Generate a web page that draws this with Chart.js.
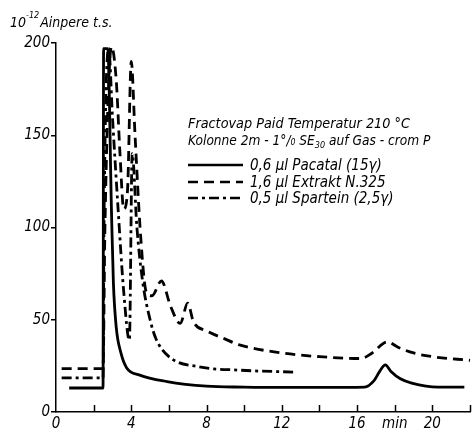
<!DOCTYPE html>
<html>
<head>
<meta charset="utf-8">
<script src="https://cdn.jsdelivr.net/npm/chart.js@4"></script>
<style>
  html, body { margin: 0; padding: 0; background: #fff; }
  #box { width: 473px; height: 430px; }
</style>
</head>
<body>
<div id="box"><canvas id="grafico" width="473" height="430"></canvas></div>
<script>
const pacatalX = [0.7, 2.5, 2.53, 2.75, 2.95, 3.05, 3.2, 3.45, 3.75, 4.45, 5.9, 8, 10, 12, 14, 16.4, 16.9, 17.2, 17.5, 17.8, 18.3, 18.9, 20.3, 21.7];
const pacatalY = [13, 13, 197, 197, 108, 70, 46, 32, 24, 20, 16.5, 14, 13.5, 13.3, 13.3, 13.5, 17, 22, 25.5, 22, 18, 15.7, 13.5, 13.5];

const extraktX = [0.3, 2.5, 2.6, 2.95, 3.2, 3.4, 3.6, 3.8, 4.0, 4.2, 4.5, 4.8, 5.1, 5.6, 6.1, 6.6, 7.0, 7.3, 8, 9, 9.7, 12, 14, 16.2, 16.8, 17.6, 18.2, 19, 20, 22];
const extraktY = [23.5, 23.5, 100, 198, 180, 140, 110, 120, 190, 150, 95, 65, 63, 71, 57, 48, 59, 49, 44, 39.5, 36.5, 32, 30, 29, 32, 38, 35, 32, 30, 28];

const sparteinX = [0.3, 2.5, 2.55, 2.8, 3.0, 3.3, 3.6, 3.9, 4.05, 4.3, 4.6, 5.0, 5.3, 6.0, 7.6, 9.7, 12.7];
const sparteinY = [18.5, 18.5, 100, 197, 160, 110, 65, 39, 140, 100, 71, 50, 40, 30, 24.5, 22.7, 21.6];

const serienNamen = ['0,6 µl Pacatal (15γ)', '1,6 µl Extrakt N.325', '0,5 µl Spartein (2,5γ)'];
const serienStriche = [[], [10, 6], [10, 4, 3, 4]];

const xTickWerte = [0, 2, 4, 6, 8, 10, 12, 14, 16, 18, 20, 22];
const xTickTexte = ['0', '', '4', '', '8', '', '12', '', '16', 'min', '20', ''];
const yTickWerte = [0, 50, 100, 150, 200];

const schrift = '"DejaVu Sans Condensed", "DejaVu Sans", sans-serif';

function punkte(xs, ys) {
  return xs.map((x, i) => ({ x: x, y: ys[i] }));
}

// schreibt Text und gibt die Breite zurück
function schreiben(ctx, text, x, y, size, italic, sx) {
  sx = sx || 1;
  ctx.save();
  ctx.font = (italic ? 'italic ' : '') + size + 'px ' + schrift;
  const w = ctx.measureText(text).width * sx;
  ctx.translate(x, y);
  ctx.scale(sx, 1);
  ctx.fillText(text, 0, 0);
  ctx.restore();
  return w;
}

// Beschriftung, Legende und kleine Teilstriche
const beschriftung = {
  id: 'beschriftung',
  afterDraw(chart) {
    const ctx = chart.ctx;
    const xs = chart.scales.x;
    ctx.save();
    ctx.fillStyle = '#000';
    ctx.strokeStyle = '#000';
    ctx.textBaseline = 'alphabetic';

    // Teilstriche auf der x-Achse (nach innen)
    ctx.lineWidth = 1.5;
    xTickWerte.forEach(v => {
      if (v === 0) return;
      const px = Math.round(xs.getPixelForValue(v)) + 0.5;
      ctx.beginPath();
      ctx.moveTo(px, xs.top);
      ctx.lineTo(px, xs.top - 7);
      ctx.stroke();
    });

    // Achsentitel
    let x = 10;
    x += schreiben(ctx, '10', x, 27, 14, true);
    x += schreiben(ctx, '-12', x, 18, 9, true);
    schreiben(ctx, 'Ainpere t.s.', x + 1, 27, 14, true);

    // Geräteangaben
    schreiben(ctx, 'Fractovap Paid Temperatur 210 °C', 188, 128, 14, true, 1.02);
    x = 188;
    x += schreiben(ctx, 'Kolonne 2m - 1°/', x, 145, 14, true, 0.97);
    x += schreiben(ctx, '₀ SE', x, 145, 14, true, 0.97);
    x += schreiben(ctx, '30', x, 148, 9, true);
    schreiben(ctx, ' auf Gas - crom P', x, 145, 14, true, 0.97);

    // Legende
    const zeilen = [165, 182, 198];
    serienNamen.forEach((name, i) => {
      ctx.save();
      ctx.lineWidth = 2.5;
      ctx.setLineDash(serienStriche[i]);
      ctx.beginPath();
      ctx.moveTo(188, zeilen[i]);
      ctx.lineTo(243, zeilen[i]);
      ctx.stroke();
      ctx.restore();
      schreiben(ctx, name, 250, zeilen[i] + 5, 15, true);
    });
    ctx.restore();
  }
};

const ctx = document.getElementById('grafico').getContext('2d');

new Chart(ctx, {
  type: 'line',
  data: {
    datasets: [
      { label: serienNamen[0], data: punkte(pacatalX, pacatalY), borderDash: serienStriche[0] },
      { label: serienNamen[1], data: punkte(extraktX, extraktY), borderDash: serienStriche[1] },
      { label: serienNamen[2], data: punkte(sparteinX, sparteinY), borderDash: serienStriche[2] }
    ].map(d => Object.assign(d, {
      borderColor: '#000',
      borderWidth: 2.8,
      pointRadius: 0,
      fill: false,
      cubicInterpolationMode: 'monotone'
    }))
  },
  options: {
    responsive: false,
    animation: false,
    layout: { padding: { top: 43, left: 0, right: 0, bottom: 0 } },
    plugins: {
      legend: { display: false },
      tooltip: { enabled: false }
    },
    scales: {
      x: {
        type: 'linear',
        min: 0,
        max: 22.05,
        afterBuildTicks: s => { s.ticks = xTickWerte.map(v => ({ value: v })); },
        afterFit: s => { s.height = 18; },
        grid: { display: false, drawTicks: false },
        border: { display: true, color: '#000', width: 1.5 },
        ticks: {
          autoSkip: false,
          maxRotation: 0,
          padding: 3,
          color: '#000',
          font: { family: schrift, size: 15, style: 'italic' },
          callback: (v, i) => xTickTexte[i]
        }
      },
      y: {
        min: 0,
        max: 200,
        afterBuildTicks: s => { s.ticks = yTickWerte.map(v => ({ value: v })); },
        afterFit: s => { s.width = 56; },
        grid: { drawOnChartArea: false, drawTicks: true, tickLength: 5, color: '#000', lineWidth: 1.5 },
        border: { display: true, color: '#000', width: 1.5 },
        ticks: {
          padding: 1,
          color: '#000',
          font: { family: schrift, size: 15, style: 'italic' }
        }
      }
    }
  },
  plugins: [beschriftung]
});
</script>
</body>
</html>
